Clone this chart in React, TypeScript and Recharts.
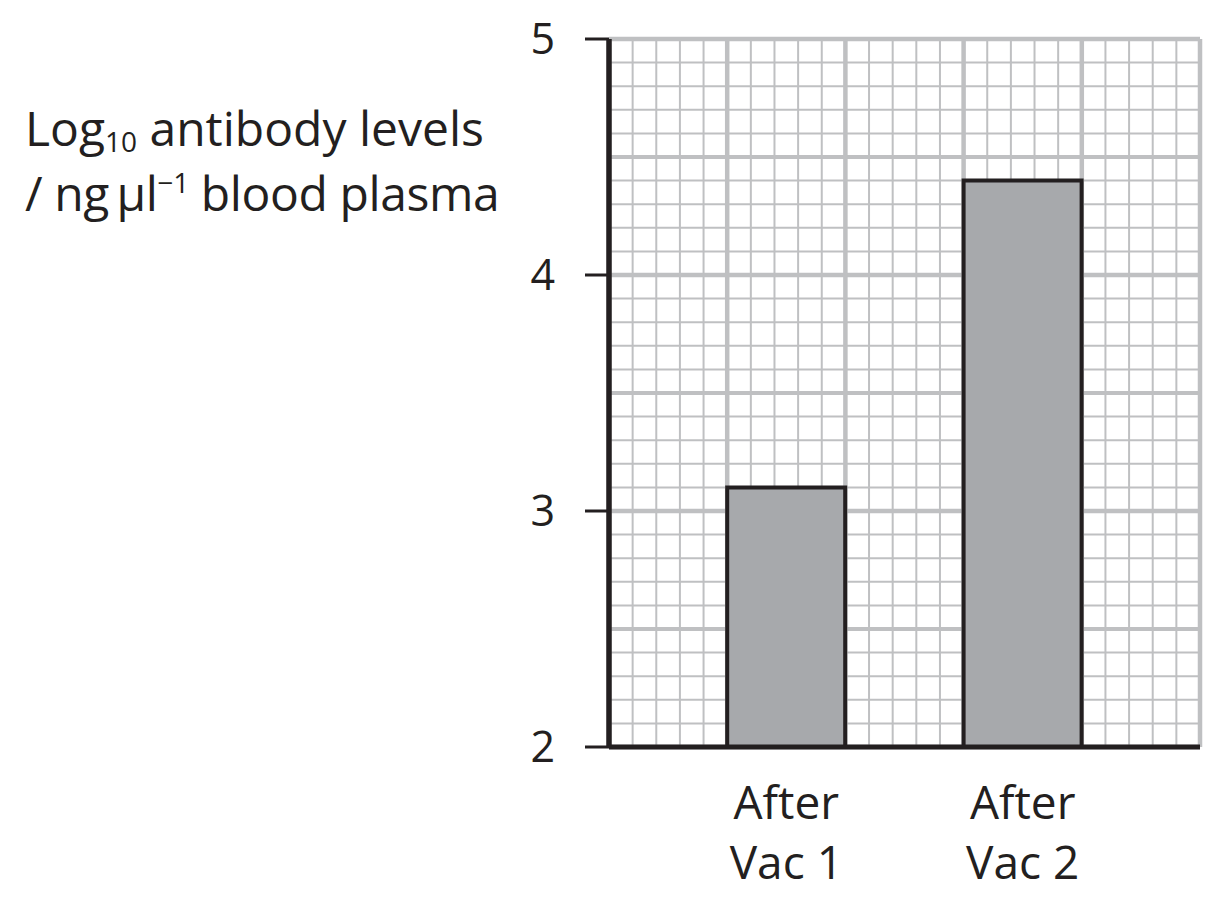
import { BarChart, Bar, XAxis, YAxis, CartesianGrid } from "recharts";

// values
const categories = ["After Vac 1", "After Vac 2"];
const antibodyLevels = [3.1, 4.4];
const yTicks = [2, 3, 4, 5];
const yHalfLines = [2.5, 3.5, 4.5];
const yMinorLines = Array.from({ length: 31 }, (_, i) => 2 + i / 10);

const INK = "#231f20";
const GRID = "#bfc0c2";
const FONT = "'Open Sans', sans-serif";

// empty slots between the bars so each column is one grid square wide
type Row = { name: string; level?: number };
const data: Row[] = [{ name: "gap-0" }];
categories.forEach((c, i) => {
  data.push({ name: c, level: antibodyLevels[i] });
  data.push({ name: `gap-${i + 1}` });
});

const yCoords = (values: number[]) => (props: any) => {
  const { yAxis, offset } = props;
  const s = yAxis?.scale;
  return values.map((v) =>
    typeof s === "function" ? s(v) : offset.top + offset.height * (1 - (v - 2) / 3)
  );
};

const xCoords = (per: number) => (props: any) => {
  const { xAxis, offset } = props;
  const s = xAxis?.scale;
  const slots = data.length;
  const out: number[] = [];
  if (typeof s === "function" && typeof s.bandwidth === "function") {
    const bw = s.bandwidth();
    const start = s(data[0].name);
    for (let i = 0; i <= slots * per; i++) out.push(start + (i * bw) / per);
  } else {
    for (let i = 0; i <= slots * per; i++)
      out.push(offset.left + (i * offset.width) / (slots * per));
  }
  return out;
};

function XTick(props: any) {
  const { x, y, payload } = props;
  const label: string = payload?.value ?? "";
  if (label.startsWith("gap")) return <g />;
  const [first, ...rest] = label.split(" ");
  return (
    <text x={x} y={y} textAnchor="middle" fill={INK} fontSize={46} fontFamily={FONT}>
      <tspan x={x} dy={64}>{first}</tspan>
      <tspan x={x} dy={60}>{rest.join(" ")}</tspan>
    </text>
  );
}

export default function App() {
  return (
    <div style={{ position: "relative", width: 1226, height: 903, margin: -8, background: "#fff" }}>
      <div
        style={{
          position: "absolute",
          left: 25,
          top: 99,
          fontFamily: FONT,
          fontSize: 48,
          lineHeight: "58px",
          color: INK,
          whiteSpace: "nowrap",
        }}
      >
        <div>
          Log<span style={{ fontSize: 28, position: "relative", top: 6 }}>10</span> antibody levels
        </div>
        <div style={{ letterSpacing: -0.4 }}>
          / ng{"\u2009"}µl<span style={{ fontSize: 28, position: "relative", top: -18 }}>−1</span> blood plasma
        </div>
      </div>
      <BarChart
        width={1226}
        height={903}
        data={data}
        barCategoryGap={0}
        margin={{ top: 39, right: 26, bottom: 126, left: 549 }}
      >
        <CartesianGrid
          stroke={GRID}
          strokeWidth={2}
          horizontalCoordinatesGenerator={yCoords(yMinorLines)}
          verticalCoordinatesGenerator={xCoords(5)}
        />
        <CartesianGrid
          stroke={GRID}
          strokeWidth={4}
          horizontalCoordinatesGenerator={yCoords(yHalfLines)}
          vertical={false}
        />
        <CartesianGrid
          stroke={GRID}
          strokeWidth={4.5}
          horizontalCoordinatesGenerator={yCoords(yTicks)}
          verticalCoordinatesGenerator={xCoords(1)}
        />
        <XAxis
          dataKey="name"
          height={30}
          interval={0}
          tickLine={false}
          axisLine={{ stroke: INK, strokeWidth: 5 }}
          tick={<XTick />}
        />
        <YAxis
          width={60}
          domain={[2, 5]}
          ticks={yTicks}
          allowDataOverflow
          axisLine={{ stroke: INK, strokeWidth: 5.5 }}
          tickLine={{ stroke: INK, strokeWidth: 3 }}
          tickSize={24}
          tickMargin={30}
          tick={{ fill: INK, fontSize: 43, fontFamily: FONT }}
        />
        <Bar
          dataKey="level"
          fill="#a7a9ac"
          stroke={INK}
          strokeWidth={4}
          isAnimationActive={false}
        />
      </BarChart>
    </div>
  );
}
